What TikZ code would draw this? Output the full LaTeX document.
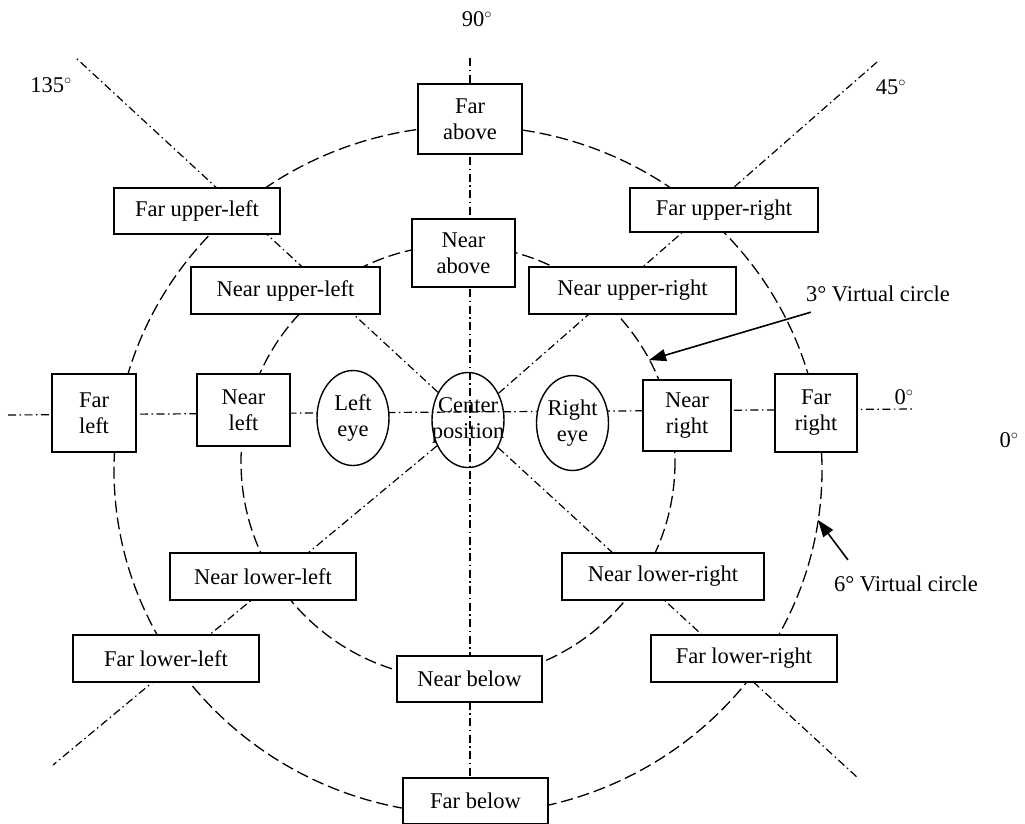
\documentclass[tikz,border=0pt]{standalone}
\usepackage{fontspec}
\setmainfont{Liberation Serif}
\usetikzlibrary{shapes.geometric,arrows.meta}
\pgfdeclarelayer{background}
\pgfsetlayers{background,main}
\begin{document}
\begin{tikzpicture}[x=1pt,y=-1pt,
  every node/.style={font=\fontsize{22.5}{26}\selectfont},
  zone/.style={draw,line width=1.6pt,fill=white,rectangle,inner sep=0pt,align=center},
  eyeshape/.style={draw,line width=1.4pt,ellipse,inner sep=-16pt,
    minimum width=72pt,minimum height=95pt,align=center},
  ray/.style={line width=1.2pt,dash pattern=on 8pt off 3.5pt on 1.5pt off 3.5pt},
  ring/.style={line width=1.3pt,dash pattern=on 12pt off 5pt},
  pointer/.style={line width=1.6pt,-{Triangle[length=17pt,width=12pt]}},
  tag/.style={inner sep=1pt}]
\useasboundingbox (0,0) rectangle (1025,823);

% position boxes
\node[zone,minimum width=104pt,minimum height=70pt] (FA)  at (470,119)   {Far\\above};
\node[zone,minimum width=103pt,minimum height=68pt] (NA)  at (463.5,253) {Near\\above};
\node[zone,minimum width=166pt,minimum height=46pt] (FUL) at (197,211)   {Far upper-left};
\node[zone,minimum width=189pt,minimum height=47pt] (NUL) at (285.5,290.5) {Near upper-left};
\node[zone,minimum width=188pt,minimum height=44pt] (FUR) at (724,210)   {Far upper-right};
\node[zone,minimum width=207pt,minimum height=47pt] (NUR) at (632.5,290.5) {Near upper-right};
\node[zone,minimum width=84pt,minimum height=78pt]  (FL)  at (94,413)    {Far\\left};
\node[zone,minimum width=93pt,minimum height=72pt]  (NL)  at (243.5,410) {Near\\left};
\node[zone,minimum width=88pt,minimum height=71pt]  (NR)  at (687,415.5) {Near\\right};
\node[zone,minimum width=82pt,minimum height=78pt]  (FR)  at (816,413)   {Far\\right};
\node[zone,minimum width=186pt,minimum height=47pt] (NLL) at (263,576.5) {Near lower-left};
\node[zone,minimum width=186pt,minimum height=47pt] (FLL) at (166,658.5) {Far lower-left};
\node[zone,minimum width=202pt,minimum height=47pt] (NLR) at (663,576.5) {Near lower-right};
\node[zone,minimum width=186pt,minimum height=47pt] (FLR) at (744,658.5) {Far lower-right};
\node[zone,minimum width=145pt,minimum height=46pt] (NB)  at (469.5,679) {Near below};
\node[zone,minimum width=145pt,minimum height=46pt] (FB)  at (475.5,801) {Far below};

% eyes and centre
\node[eyeshape,fill=white] (LE) at (353,418)   {Left\\eye};
\node[eyeshape]            (C)  at (468,420)   {Center\\position};
\node[eyeshape,fill=white] (RE) at (572.5,423) {Right\\eye};

% angle labels
\node[tag] (a90)  at (477,19)   {90$^\circ$};
\node[tag] (a135) at (51,85)    {135$^\circ$};
\node[tag] (a45)  at (891,87)   {45$^\circ$};
\node[tag] (a0)   at (904,397)  {0$^\circ$};
\node[tag] (a0b)  at (1009,440) {0$^\circ$};

% circle captions
\node[tag] (L3) at (878,294) {3° Virtual circle};
\node[tag] (L6) at (906,584) {6° Virtual circle};

% ray ends
\coordinate (v0)   at (470,58);
\coordinate (hL)   at (8,415);
\coordinate (hR)   at (914,409);
\coordinate (d135) at (76,58);
\coordinate (d45)  at (877,62);
\coordinate (d225) at (53,765);
\coordinate (d315) at (858,778);
\coordinate (t3)   at (649,360);
\coordinate (t6)   at (818,520);

\begin{pgfonlayer}{background}
  % virtual circles
  \draw[ring] (458,462) circle [radius=217];
  \draw[ring] (468,470) ellipse [x radius=354, y radius=344];
  % direction rays
  \draw[ray] (v0) -- (v0 |- FB.north);
  \draw[ray] (hL) -- (hR);
  \draw[ray] (C) -- (d135);
  \draw[ray] (C) -- (d45);
  \draw[ray] (C) -- (d225);
  \draw[ray] (C) -- (d315);
\end{pgfonlayer}

% caption pointers
\draw[pointer] ([xshift=6pt,yshift=-9pt]L3.south west) -- (t3);
\draw[pointer] ([xshift=15pt,yshift=15pt]L6.north west) -- (t6);
\end{tikzpicture}
\end{document}
